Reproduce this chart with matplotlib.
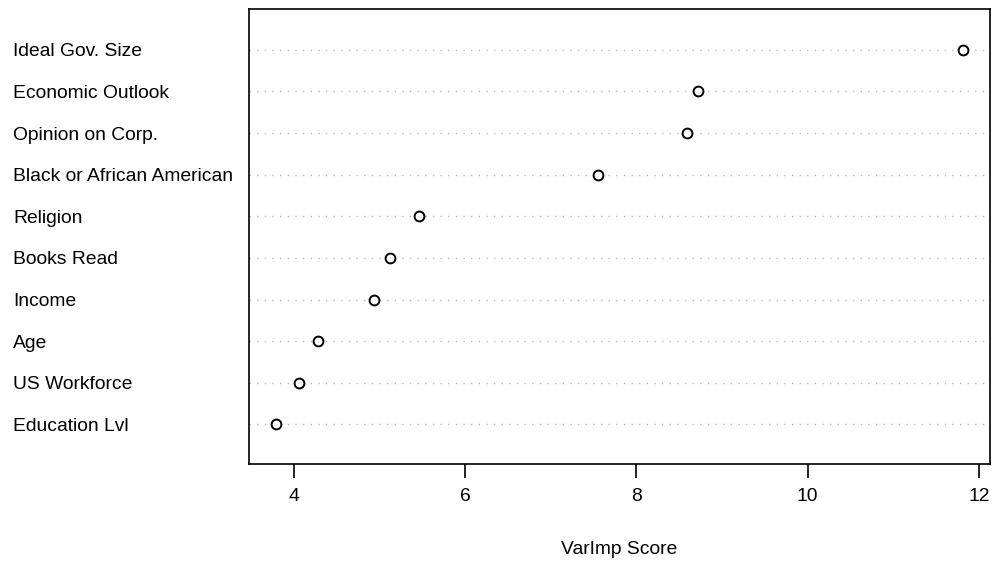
import numpy as np
import matplotlib
matplotlib.use("Agg")
import matplotlib.pyplot as plt
from matplotlib.transforms import blended_transform_factory

plt.rcParams['font.family'] = ['Liberation Sans', 'DejaVu Sans']

# variable importance, top row first
labels = ["Ideal Gov. Size", "Economic Outlook", "Opinion on Corp.",
          "Black or African American", "Religion", "Books Read", "Income",
          "Age", "US Workforce", "Education Lvl"]
scores = [11.81, 8.72, 8.59, 7.55, 5.46, 5.13, 4.94, 4.29, 4.06, 3.80]

fig = plt.figure(figsize=(9.93, 5.61), dpi=100)
ax = fig.add_axes([249 / 993, 1 - 464 / 561, 741 / 993, 455 / 561])

n = len(labels)
ypos = np.arange(n, 0, -1)
for y in ypos:
    ax.axhline(y, color="#b8b8b8", lw=1.0, ls=(0, (1, 4.5)), zorder=1)
ax.scatter(scores, ypos, s=50, facecolors="white", edgecolors="black",
           linewidths=1.4, zorder=3)

lo, hi = min(scores), max(scores)
pad = (hi - lo) * 0.04
ax.set_xlim(lo - pad, hi + pad)
ax.set_ylim(0.05, n + 0.98)
ax.set_xticks([4, 6, 8, 10, 12])
ax.tick_params(axis="x", length=10, width=1.2, pad=7, labelsize=13.9)
ax.set_yticks([])
for s in ax.spines.values():
    s.set_linewidth(1.2)

trans = blended_transform_factory(fig.transFigure, ax.transData)
for y, lab in zip(ypos, labels):
    ax.text(13 / 993, y, lab, transform=trans, ha="left",
            va="center_baseline", fontsize=13.9)

fig.text((249 + 741 / 2) / 993, 1 - 549 / 561, "VarImp Score",
         ha="center", va="center", fontsize=13.9)

fig.savefig("out.png", dpi=100)
